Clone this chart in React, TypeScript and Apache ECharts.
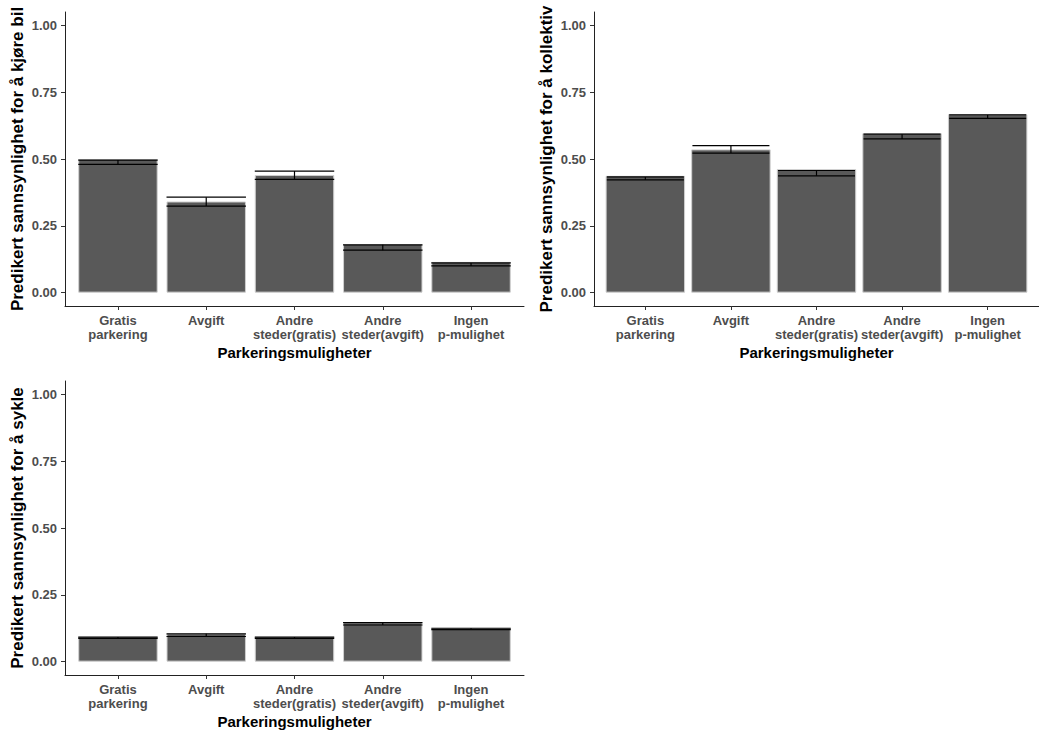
import React, { useEffect, useRef } from "react";
import * as echarts from "echarts";

const categories = [
  "Gratis\nparkering",
  "Avgift",
  "Andre\nsteder(gratis)",
  "Andre\nsteder(avgift)",
  "Ingen\np-mulighet",
];
const yTicks = [0, 0.25, 0.5, 0.75, 1.0];

const carMean = [0.5, 0.341, 0.44, 0.182, 0.115];
const carLower = [0.48, 0.324, 0.424, 0.159, 0.1];
const carUpper = [0.496, 0.357, 0.455, 0.179, 0.111];

const transitMean = [0.437, 0.536, 0.462, 0.596, 0.667];
const transitLower = [0.422, 0.522, 0.437, 0.575, 0.652];
const transitUpper = [0.433, 0.55, 0.457, 0.593, 0.665];

const bikeMean = [0.093, 0.105, 0.093, 0.147, 0.126];
const bikeLower = [0.087, 0.094, 0.087, 0.137, 0.12];
const bikeUpper = [0.092, 0.104, 0.092, 0.146, 0.125];

const yTitles = [
  "Predikert sannsynlighet for å kjøre bil",
  "Predikert sannsynlighet for å kollektiv",
  "Predikert sannsynlighet for å sykle",
];
const xTitle = "Parkeringsmuligheter";

const FONT = "'Liberation Sans', Arial, sans-serif";
const GRID_W = 459;
const grids = [
  { left: 65, top: 12, width: GRID_W, height: 294 },
  { left: 594, top: 12, width: GRID_W, height: 294 },
  { left: 65, top: 381, width: GRID_W, height: 294 },
];

export default function App() {
  const ref = useRef<HTMLDivElement>(null);
  useEffect(() => {
    if (!ref.current) return;
    const chart = echarts.init(ref.current, null, { renderer: "svg" });
    const panels = [
      { mean: carMean, lower: carLower, upper: carUpper },
      { mean: transitMean, lower: transitLower, upper: transitUpper },
      { mean: bikeMean, lower: bikeLower, upper: bikeUpper },
    ];
    const xPos = categories.map((_, i) => i + 1);
    const barW = (GRID_W / 5.2) * 0.9;

    const xAxes = grids.map((_, i) => ({
      type: "value",
      gridIndex: i,
      min: 0.4,
      max: 5.6,
      name: xTitle,
      nameLocation: "middle",
      nameGap: 39,
      nameTextStyle: { fontFamily: FONT, fontWeight: "bold", fontSize: 15, color: "#000" },
      splitLine: { show: false },
      axisLine: { show: true, onZero: false, lineStyle: { color: "#222", width: 1 } },
      axisTick: { show: true, length: 4, customValues: xPos, lineStyle: { color: "#333" } },
      axisLabel: {
        customValues: xPos,
        formatter: (v: number) => categories[Math.round(v) - 1] ?? "",
        fontFamily: FONT,
        fontWeight: "bold",
        fontSize: 13,
        color: "#4d4d4d",
        lineHeight: 14.5,
        margin: 7,
      },
    }));
    const yAxes = grids.map((_, i) => ({
      type: "value",
      gridIndex: i,
      min: -0.05,
      max: 1.05,
      name: yTitles[i],
      nameLocation: "middle",
      nameGap: 39,
      nameTextStyle: { fontFamily: FONT, fontWeight: "bold", fontSize: 17, color: "#000" },
      splitLine: { show: false },
      axisLine: { show: true, lineStyle: { color: "#222", width: 1 } },
      axisTick: { show: true, length: 4, customValues: yTicks, lineStyle: { color: "#333" } },
      axisLabel: {
        customValues: yTicks,
        formatter: (v: number) => v.toFixed(2),
        fontFamily: FONT,
        fontWeight: "bold",
        fontSize: 13,
        color: "#4d4d4d",
        margin: 8,
      },
    }));

    const series: any[] = [];
    panels.forEach((p, i) => {
      series.push({
        type: "bar",
        xAxisIndex: i,
        yAxisIndex: i,
        barWidth: barW,
        data: p.mean.map((v, j) => [xPos[j], v]),
        itemStyle: { color: "#595959", borderColor: "#cfcfcf", borderWidth: 1 },
        silent: true,
      });
      series.push({
        type: "custom",
        xAxisIndex: i,
        yAxisIndex: i,
        data: p.lower.map((lo, j) => [xPos[j], lo, p.upper[j]]),
        silent: true,
        z: 5,
        renderItem: (_params: any, api: any) => {
          const x = api.value(0);
          const lo = api.coord([x, api.value(1)]);
          const hi = api.coord([x, api.value(2)]);
          const w = api.size([0.9, 0])[0];
          const st = { stroke: "#000", lineWidth: 1.2 };
          return {
            type: "group",
            children: [
              { type: "line", shape: { x1: lo[0] - w / 2, y1: lo[1], x2: lo[0] + w / 2, y2: lo[1] }, style: st },
              { type: "line", shape: { x1: hi[0] - w / 2, y1: hi[1], x2: hi[0] + w / 2, y2: hi[1] }, style: st },
              { type: "line", shape: { x1: lo[0], y1: lo[1], x2: hi[0], y2: hi[1] }, style: st },
            ],
          };
        },
      });
    });

    chart.setOption({
      animation: false,
      backgroundColor: "#fff",
      grid: grids.map((g) => ({ ...g, containLabel: false })),
      xAxis: xAxes,
      yAxis: yAxes,
      series,
    });
    return () => chart.dispose();
  }, []);
  return (
    <div
      ref={ref}
      style={{ position: "fixed", left: 0, top: 0, width: 1039, height: 731, background: "#fff" }}
    />
  );
}
